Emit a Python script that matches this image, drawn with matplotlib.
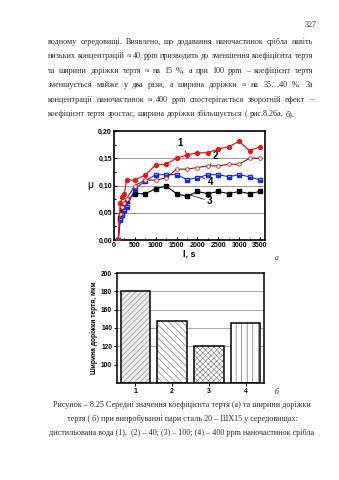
import matplotlib
matplotlib.use("Agg")
import matplotlib.pyplot as plt
from matplotlib.ticker import FuncFormatter, MultipleLocator

W, H = 339, 480
fig = plt.figure(figsize=(W/100, H/100), dpi=100)
fig.patch.set_facecolor("white")

# ---------------- data ----------------
time_s = [100, 150, 200, 250, 300, 500, 750, 1000, 1250, 1500, 1750, 2000, 2250, 2500, 2750, 3000, 3250, 3500]
mu_1 = [0.0, 0.067, 0.079, 0.085, 0.110, 0.110, 0.119, 0.138, 0.139, 0.150, 0.156, 0.160, 0.160, 0.167, 0.171, 0.181, 0.164, 0.171]
mu_2 = [0.0, 0.048, 0.060, 0.068, 0.075, 0.100, 0.110, 0.110, 0.114, 0.130, 0.130, 0.133, 0.136, 0.136, 0.139, 0.139, 0.150, 0.150]
mu_3 = [0.0, 0.041, 0.055, 0.066, 0.072, 0.085, 0.085, 0.094, 0.099, 0.085, 0.080, 0.089, 0.085, 0.089, 0.085, 0.089, 0.085, 0.089]
mu_4 = [0.0, 0.036, 0.045, 0.053, 0.060, 0.094, 0.108, 0.120, 0.120, 0.120, 0.111, 0.114, 0.120, 0.120, 0.116, 0.120, 0.116, 0.110]

bar_labels = ["1", "2", "3", "4"]
bar_values = [180, 148, 120, 145]

page_number = "327"
para_lines = [
    "водному середовищі. Виявлено, що додавання наночастинок срібла навіть",
    "низьких концентрацій ≈ 40 ppm призводить до зменшення коефіцієнта тертя",
    "та ширини доріжки тертя  ≈ на 15 %, а при 100 ppm – коефіцієнт тертя",
    "зменшується майже у два рази, а ширина доріжки  ≈ на 35…40 %. За",
    "концентрації наночастинок ≈ 400 ppm спостерігається зворотній ефект –",
    "коефіцієнт тертя зростає, ширина доріжки збільшується ( рис.8.26а, б).",
]
caption_lines = [
    "Рисунок – 8.25 Середні значення коефіцієнта тертя (а) та ширини доріжки",
    "тертя ( б) при випробуванні пари сталь 20 – ШХ15 у середовищах:",
    "дистильована вода (1),  (2) – 40; (3) – 100; (4) – 400 ppm наночастинок срібла",
]

TXT = "#2a2a2a"
SERIF = "Liberation Serif"
SANS = "Liberation Sans"

def fx(px):
    return px / W

def fy(py):
    return 1 - py / H

# ---------------- page text ----------------
fig.text(fx(317), fy(25), page_number, fontsize=5.8, family=SERIF, color=TXT, ha="right", va="center")

renderer = fig.canvas.get_renderer()

def justified(line, x0, x1, y, fs, justify=True):
    words = line.split()
    texts = [fig.text(0, 0, w, fontsize=fs, family=SERIF, color=TXT, va="center") for w in words]
    widths = [t.get_window_extent(renderer).width for t in texts]
    if justify and len(words) > 1:
        gap = ((x1 - x0) - sum(widths)) / (len(words) - 1)
    else:
        gap = fs * 100 / 72 * 0.25
    x = x0
    for t, w in zip(texts, widths):
        t.set_position((fx(x), fy(y)))
        x += w + gap

para_y = [42, 56.4, 70.8, 85.2, 99.6, 114]
for i, (ln, y) in enumerate(zip(para_lines, para_y)):
    justified(ln, 48, 313, y, 5.9, justify=(i < len(para_lines) - 1))

cap_y = [405, 419, 433]
for ln, y in zip(caption_lines, cap_y):
    fig.text(fx(182), fy(y), ln, fontsize=5.9, family=SERIF, color=TXT, ha="center", va="center")

# ---------------- line chart ----------------
ax = fig.add_axes([fx(114), fy(240), fx(265) - fx(114), fy(131) - fy(240)])
ax.set_xlim(0, 3620)
ax.set_ylim(0, 0.20)
for yv in [0.05, 0.10, 0.15]:
    ax.axhline(yv, color="#8a8a8a", lw=0.6, zorder=0)

ax.plot(time_s, mu_3, color="black", lw=0.8, marker="s", ms=2.3, mfc="black", mec="black", zorder=3)
ax.plot(time_s, mu_4, color="#1a2bd6", lw=0.8, marker="s", ms=2.5, mfc="#1a2bd6", mec="#1a2bd6",
        fillstyle="bottom", markerfacecoloralt="white", zorder=3)
ax.plot(time_s, mu_2, color="#7a1418", lw=0.8, marker="o", ms=2.6, mfc="white", mec="#d42020", mew=0.6, zorder=4)
ax.plot(time_s, mu_1, color="#e01a1a", lw=0.9, marker="o", ms=2.8, mfc="#e01a1a", mec="#e01a1a", zorder=5)

for s in ax.spines.values():
    s.set_linewidth(1.2)
ax.xaxis.set_major_locator(MultipleLocator(500))
ax.xaxis.set_minor_locator(MultipleLocator(250))
ax.yaxis.set_major_locator(MultipleLocator(0.05))
ax.yaxis.set_minor_locator(MultipleLocator(0.025))
ax.tick_params(which="both", direction="in", top=False, right=False, width=0.8)
ax.tick_params(which="major", length=2.5, pad=1.5)
ax.tick_params(which="minor", length=1.5)
ax.yaxis.set_major_formatter(FuncFormatter(lambda v, p: f"{v:.2f}".replace(".", ",")))
for lab in ax.get_xticklabels() + ax.get_yticklabels():
    lab.set_fontsize(5)
    lab.set_fontweight("bold")
    lab.set_family(SANS)
ax.set_xlabel("l, s", fontsize=6.5, fontweight="bold", family=SANS, labelpad=0)
ax.set_ylabel("μ", fontsize=7.5, family=SANS, rotation=0, labelpad=6, va="center")

ann = dict(arrowprops=dict(arrowstyle="-", color="black", lw=0.5, shrinkA=0, shrinkB=0),
           fontsize=7, fontweight="bold", family=SANS, ha="center", va="center")
ax.annotate("1", xy=(1750, 0.157), xytext=(1590, 0.178), **ann)
ax.annotate("2", xy=(2300, 0.137), xytext=(2440, 0.155), **ann)
ax.annotate("4", xy=(2080, 0.116), xytext=(2320, 0.107), **ann)
ax.annotate("3", xy=(1820, 0.083), xytext=(2300, 0.071), **ann)

fig.text(fx(277), fy(258), "а", fontsize=5.5, family=SERIF, style="italic", color=TXT, ha="center", va="center")

# ---------------- bar chart ----------------
plt.rcParams["hatch.linewidth"] = 0.45
bx = fig.add_axes([fx(117), fy(383), fx(264) - fx(117), fy(273) - fy(383)])
bx.set_xlim(0.5, 4.5)
bx.set_ylim(80, 200)
for yv in [120, 140, 160, 180]:
    bx.axhline(yv, color="#9a9a9a", lw=0.6, zorder=0)

pos = [1, 2, 3, 4]
faces = ["#ececec", "white", "white", "white"]
hatches = ["//////", "\\\\\\\\\\", "xxxxxx", "|||"]
hcols = ["#8c8c8c", "#707070", "#808080", "#606060"]
for p, v, fc, hh, hc in zip(pos, bar_values, faces, hatches, hcols):
    bx.bar(p, v - 80, bottom=80, width=0.8, color=fc, edgecolor=hc, hatch=hh, lw=0, zorder=2)
bx.bar(pos, [v - 80 for v in bar_values], bottom=80, width=0.8, fill=False, edgecolor="black", lw=1.1, zorder=3)

bx.set_xticks(pos)
bx.set_xticklabels(bar_labels)
bx.set_yticks([100, 120, 140, 160, 180, 200])
for s in bx.spines.values():
    s.set_linewidth(1.1)
bx.tick_params(axis="both", direction="out", length=2, width=0.7, pad=1.5)
for lab in bx.get_xticklabels():
    lab.set_fontsize(5)
    lab.set_fontweight("bold")
    lab.set_family(SANS)
for lab in bx.get_yticklabels():
    lab.set_fontsize(4.8)
    lab.set_family(SANS)
    lab.set_fontweight("bold")
bx.set_ylabel("Ширина доріжки тертя, мкм", fontsize=4.8, fontweight="bold", family=SANS, labelpad=2)

fig.text(fx(277), fy(392), "б", fontsize=5.5, family=SERIF, style="italic", color=TXT, ha="center", va="center")

fig.savefig("out.png", dpi=100, facecolor="white")
